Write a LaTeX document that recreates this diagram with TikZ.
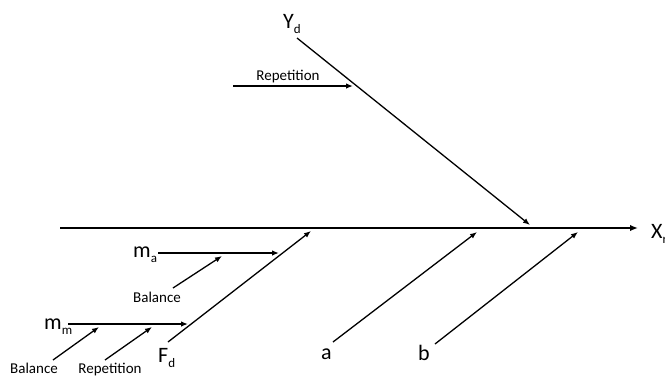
\documentclass[tikz,border=0pt]{standalone}
\usepackage{fontspec}
\setmainfont{Carlito}
\usetikzlibrary{arrows.meta,calc}
\tikzset{
  flow/.style={-{Latex[length=7pt,width=5.5pt]}, line width=1.3pt},
  spine/.style={-{Latex[length=8pt,width=6.5pt]}, line width=2.4pt},
  lbl/.style={inner sep=0pt, font=\fontsize{15}{18}\selectfont},
  big/.style={inner sep=0pt, font=\fontsize{22}{26}\selectfont},
}
\newcommand{\sbs}[1]{\raisebox{-5pt}{\fontsize{13}{14}\selectfont #1}}

\begin{document}
\begin{tikzpicture}[x=1pt, y=-1pt]
\useasboundingbox (0,0) rectangle (665,376);

% Main effect line towards the response
\coordinate (sp0) at (60,228);
\coordinate (sp1) at (638,228);
\node[big, anchor=base west] (Xr) at (651,238) {X\sbs{r}};
\draw[spine] (sp0) -- (sp1);

% Upper rib: Y_d with its repetition input
\coordinate (yd0) at (297,38);
\coordinate (yd1) at (530,225);
\node[big, anchor=base west] (Yd) at (283,28) {Y\sbs{d}};
\draw[flow] (yd0) -- (yd1);
\coordinate (rep0) at (233,86);
\coordinate (rep1) at (353,86);
\node[lbl, anchor=base] (repY) at (288,80) {Repetition};
\draw[flow] (rep0) -- (rep1);

% Lower rib: F_d with m_a and m_m branches
\coordinate (fd0) at (168,342);
\coordinate (fd1) at (311,231);
\node[big, anchor=base west] (Fd) at (158,362) {F\sbs{d}};
\draw[flow] (fd0) -- (fd1);

\coordinate (ma0) at (158,253);
\coordinate (ma1) at (279,253);
\node[big, anchor=base west] (ma) at (133,257) {m\sbs{a}};
\draw[flow] (ma0) -- (ma1);
\coordinate (bal0) at (173,288);
\coordinate (bal1) at (222,256);
\node[lbl, anchor=base] (balA) at (157,302) {Balance};
\draw[flow] (bal0) -- (bal1);

\coordinate (mm0) at (68,324);
\coordinate (mm1) at (188,324);
\node[big, anchor=base west] (mm) at (44,329) {m\sbs{m}};
\draw[flow] (mm0) -- (mm1);
\coordinate (bal2) at (53,360);
\coordinate (bal3) at (99,327);
\node[lbl, anchor=base] (balM) at (34,373) {Balance};
\draw[flow] (bal2) -- (bal3);
\coordinate (rep2) at (105,360);
\coordinate (rep3) at (152,327);
\node[lbl, anchor=base] (repM) at (110,373) {Repetition};
\draw[flow] (rep2) -- (rep3);

% Ribs a and b
\coordinate (a0) at (333,342);
\coordinate (a1) at (477,232);
\node[big, anchor=base west] (a) at (321,359) {a};
\draw[flow] (a0) -- (a1);
\coordinate (b0) at (435,344);
\coordinate (b1) at (578,232);
\node[big, anchor=base west] (b) at (418,360) {b};
\draw[flow] (b0) -- (b1);

\end{tikzpicture}
\end{document}
